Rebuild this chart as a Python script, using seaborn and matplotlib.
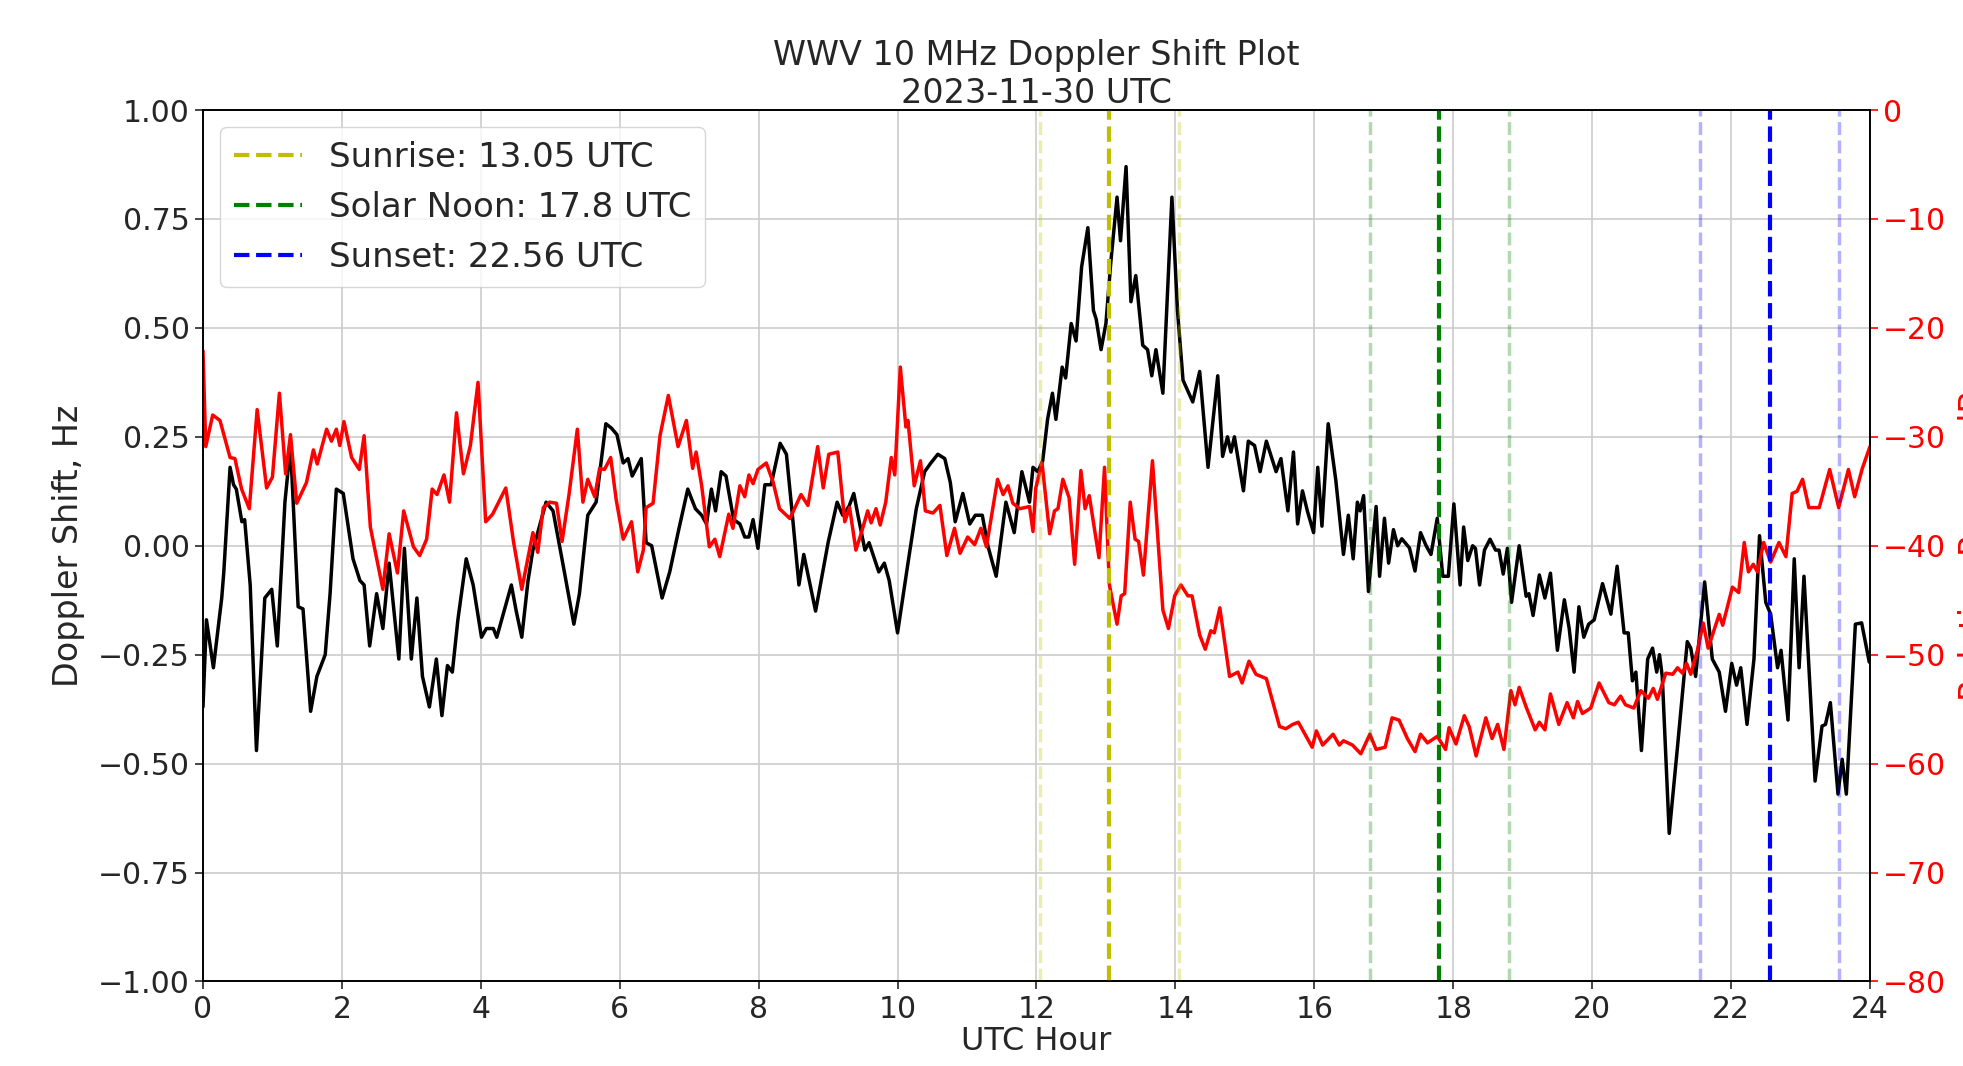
import matplotlib
matplotlib.use("Agg")
import pandas as pd
import matplotlib.pyplot as plt
import seaborn as sns

# Доплеровский сдвиг (Гц) по часам UTC
hours_doppler = [
    0.00, 0.05, 0.15, 0.27, 0.30, 0.39, 0.44, 0.48, 0.56, 0.60, 0.68, 0.77, 0.89, 0.99,
    1.07, 1.18, 1.26, 1.37, 1.44, 1.55, 1.64, 1.76, 1.83, 1.92, 2.02, 2.16, 2.26, 2.32,
    2.40, 2.50, 2.59, 2.68, 2.82, 2.90, 3.00, 3.08, 3.16, 3.26, 3.36, 3.44, 3.52, 3.59,
    3.67, 3.79, 3.89, 4.01, 4.08, 4.18, 4.23, 4.44, 4.51, 4.59, 4.68, 4.75, 4.94, 5.04,
    5.18, 5.34, 5.42, 5.54, 5.66, 5.80, 5.88, 5.96, 6.05, 6.12, 6.18, 6.31, 6.38, 6.46,
    6.61, 6.72, 6.84, 6.98, 7.09, 7.18, 7.25, 7.32, 7.38, 7.46, 7.53, 7.64, 7.73, 7.80,
    7.86, 7.92, 7.99, 8.09, 8.18, 8.31, 8.40, 8.48, 8.58, 8.65, 8.82, 9.00, 9.13, 9.21,
    9.30, 9.37, 9.43, 9.53, 9.59, 9.73, 9.81, 9.88, 10.00, 10.15, 10.27, 10.39, 10.48,
    10.58, 10.68, 10.76, 10.83, 10.94, 11.04, 11.12, 11.22, 11.30, 11.42, 11.56, 11.68,
    11.79, 11.90, 11.95, 12.02, 12.09, 12.16, 12.23, 12.28, 12.37, 12.42, 12.50, 12.57,
    12.65, 12.74, 12.82, 12.86, 12.93, 13.00, 13.07, 13.16, 13.21, 13.29, 13.36, 13.43,
    13.53, 13.60, 13.66, 13.72, 13.82, 13.95, 14.03, 14.11, 14.25, 14.35, 14.47, 14.61,
    14.68, 14.75, 14.80, 14.85, 14.98, 15.05, 15.14, 15.22, 15.31, 15.39, 15.45, 15.52,
    15.62, 15.70, 15.76, 15.83, 15.90, 15.99, 16.05, 16.11, 16.20, 16.31, 16.42, 16.49,
    16.56, 16.62, 16.66, 16.71, 16.78, 16.89, 16.94, 17.01, 17.07, 17.14, 17.20, 17.26,
    17.37, 17.45, 17.53, 17.61, 17.68, 17.77, 17.85, 17.93, 18.01, 18.10, 18.15, 18.21,
    18.28, 18.32, 18.38, 18.45, 18.53, 18.61, 18.66, 18.72, 18.78, 18.84, 18.95, 19.05,
    19.09, 19.15, 19.24, 19.32, 19.40, 19.50, 19.60, 19.67, 19.74, 19.81, 19.88, 19.95,
    20.03, 20.15, 20.27, 20.36, 20.46, 20.52, 20.58, 20.63, 20.71, 20.80, 20.87, 20.93,
    20.97, 21.01, 21.11, 21.23, 21.37, 21.42, 21.49, 21.62, 21.73, 21.83, 21.92, 22.01,
    22.08, 22.14, 22.23, 22.33, 22.41, 22.50, 22.57, 22.67, 22.72, 22.82, 22.91, 22.98,
    23.05, 23.21, 23.31, 23.36, 23.43, 23.54, 23.60, 23.66, 23.79, 23.88, 23.99,
]
doppler_hz = [
    -0.37, -0.17, -0.28, -0.12, -0.06, 0.18, 0.14, 0.13, 0.055, 0.06, -0.09, -0.47, -0.12, -0.10,
    -0.23, 0.10, 0.23, -0.14, -0.145, -0.38, -0.30, -0.25, -0.11, 0.13, 0.12, -0.03, -0.08, -0.09,
    -0.23, -0.11, -0.19, -0.04, -0.26, -0.006, -0.26, -0.12, -0.30, -0.37, -0.26, -0.39, -0.275, -0.29,
    -0.17, -0.03, -0.09, -0.21, -0.19, -0.19, -0.21, -0.09, -0.15, -0.21, -0.08, -0.01, 0.10, 0.08,
    -0.04, -0.18, -0.11, 0.07, 0.10, 0.28, 0.27, 0.255, 0.19, 0.20, 0.16, 0.20, 0.007, 0.0,
    -0.12, -0.06, 0.03, 0.13, 0.085, 0.07, 0.05, 0.13, 0.08, 0.17, 0.16, 0.06, 0.05, 0.02,
    0.02, 0.06, -0.006, 0.14, 0.14, 0.235, 0.21, 0.08, -0.09, -0.02, -0.15, 0.007, 0.10, 0.07,
    0.09, 0.12, 0.07, -0.01, 0.007, -0.06, -0.04, -0.08, -0.20, -0.04, 0.085, 0.17, 0.19,
    0.21, 0.20, 0.145, 0.055, 0.12, 0.05, 0.07, 0.07, 0.0, -0.07, 0.10, 0.03,
    0.17, 0.10, 0.18, 0.17, 0.195, 0.29, 0.35, 0.29, 0.41, 0.385, 0.51, 0.47,
    0.64, 0.73, 0.54, 0.52, 0.45, 0.51, 0.65, 0.80, 0.70, 0.87, 0.56, 0.62,
    0.46, 0.45, 0.39, 0.45, 0.35, 0.80, 0.54, 0.38, 0.33, 0.40, 0.18, 0.39,
    0.205, 0.25, 0.215, 0.25, 0.126, 0.24, 0.23, 0.17, 0.24, 0.20, 0.17, 0.20,
    0.08, 0.215, 0.05, 0.126, 0.08, 0.03, 0.18, 0.045, 0.28, 0.15, -0.02, 0.07,
    -0.03, 0.10, 0.08, 0.115, -0.105, 0.09, -0.07, 0.063, -0.04, 0.037, 0.0, 0.016,
    -0.005, -0.058, 0.03, 0.0, -0.02, 0.063, -0.07, -0.07, 0.096, -0.09, 0.043, -0.034,
    0.0, -0.006, -0.09, -0.01, 0.015, -0.01, -0.01, -0.065, -0.006, -0.13, 0.0, -0.116,
    -0.11, -0.16, -0.067, -0.12, -0.063, -0.24, -0.124, -0.19, -0.29, -0.14, -0.21, -0.18,
    -0.17, -0.087, -0.157, -0.047, -0.20, -0.20, -0.31, -0.29, -0.47, -0.26, -0.235, -0.29,
    -0.25, -0.30, -0.66, -0.46, -0.22, -0.235, -0.30, -0.083, -0.26, -0.29, -0.38, -0.27,
    -0.32, -0.28, -0.41, -0.26, 0.023, -0.13, -0.157, -0.28, -0.24, -0.40, -0.03, -0.28,
    -0.07, -0.54, -0.414, -0.41, -0.36, -0.57, -0.49, -0.57, -0.18, -0.177, -0.267,
]

# Относительная мощность (дБ) по часам UTC
hours_power = [
    0.00, 0.04, 0.14, 0.245, 0.39, 0.46, 0.556, 0.667, 0.78, 0.916, 1.00, 1.10, 1.19, 1.26,
    1.35, 1.49, 1.59, 1.645, 1.78, 1.85, 1.92, 1.97, 2.03, 2.14, 2.25, 2.32, 2.41, 2.59,
    2.68, 2.80, 2.89, 3.03, 3.12, 3.22, 3.30, 3.37, 3.47, 3.55, 3.65, 3.75, 3.85, 3.96,
    4.07, 4.17, 4.36, 4.47, 4.59, 4.75, 4.82, 4.90, 4.99, 5.09, 5.17, 5.27, 5.39, 5.47,
    5.54, 5.64, 5.71, 5.78, 5.87, 5.95, 6.05, 6.17, 6.26, 6.34, 6.38, 6.48, 6.58, 6.70,
    6.84, 6.96, 7.05, 7.10, 7.18, 7.29, 7.37, 7.44, 7.57, 7.63, 7.73, 7.80, 7.86, 7.92,
    7.99, 8.11, 8.21, 8.30, 8.45, 8.61, 8.71, 8.85, 8.93, 9.01, 9.14, 9.24, 9.31, 9.40,
    9.48, 9.57, 9.62, 9.69, 9.75, 9.83, 9.91, 9.96, 10.04, 10.12, 10.15, 10.24, 10.33,
    10.40, 10.51, 10.61, 10.71, 10.82, 10.90, 11.01, 11.11, 11.20, 11.28, 11.44, 11.52,
    11.59, 11.66, 11.76, 11.90, 11.95, 11.99, 12.08, 12.19, 12.26, 12.31, 12.38, 12.47,
    12.55, 12.64, 12.70, 12.76, 12.90, 12.98, 13.05, 13.16, 13.22, 13.27, 13.35, 13.42,
    13.47, 13.54, 13.67, 13.82, 13.90, 13.99, 14.08, 14.18, 14.24, 14.35, 14.43, 14.51,
    14.56, 14.64, 14.78, 14.90, 14.96, 15.06, 15.16, 15.31, 15.50, 15.59, 15.69, 15.77,
    15.97, 16.03, 16.12, 16.27, 16.36, 16.42, 16.55, 16.67, 16.80, 16.89, 17.02, 17.12,
    17.22, 17.34, 17.45, 17.53, 17.63, 17.77, 17.89, 17.94, 18.04, 18.16, 18.23, 18.33,
    18.47, 18.56, 18.64, 18.73, 18.83, 18.89, 18.95, 19.05, 19.18, 19.24, 19.32, 19.40,
    19.52, 19.64, 19.73, 19.79, 19.86, 19.98, 20.10, 20.24, 20.32, 20.41, 20.48, 20.60,
    20.70, 20.81, 20.88, 20.94, 21.06, 21.16, 21.23, 21.30, 21.36, 21.42, 21.52, 21.60,
    21.67, 21.83, 21.88, 22.02, 22.11, 22.19, 22.25, 22.32, 22.38, 22.47, 22.57, 22.69,
    22.79, 22.88, 22.95, 23.03, 23.12, 23.27, 23.42, 23.55, 23.69, 23.78, 23.89, 24.00,
]
power_db = [
    -22.1, -30.9, -28.0, -28.5, -31.9, -32.0, -34.8, -36.6, -27.5, -34.7, -33.7, -26.0, -33.4, -29.8,
    -36.1, -34.2, -31.2, -32.5, -29.3, -30.4, -29.3, -30.8, -28.6, -31.9, -33.0, -29.9, -38.3, -44.0,
    -38.9, -42.5, -36.8, -40.1, -40.9, -39.4, -34.8, -35.3, -33.5, -36.0, -27.8, -33.4, -30.8, -25.0,
    -37.8, -37.1, -34.7, -39.6, -44.0, -38.8, -40.6, -36.5, -36.0, -36.1, -39.6, -35.3, -29.3, -36.0,
    -33.9, -35.5, -32.9, -33.0, -31.9, -35.8, -39.4, -37.8, -42.4, -40.4, -36.5, -36.1, -29.9, -26.2,
    -30.9, -28.5, -32.9, -31.4, -34.5, -40.1, -39.4, -41.0, -37.1, -38.4, -34.5, -35.5, -33.5, -34.3,
    -33.0, -32.4, -34.2, -36.6, -37.5, -35.3, -36.3, -30.9, -34.7, -31.6, -31.4, -37.8, -36.5, -40.4,
    -38.8, -36.8, -37.9, -36.6, -38.1, -36.0, -31.9, -33.5, -23.6, -29.1, -28.5, -34.5, -32.2,
    -36.8, -37.0, -36.3, -40.9, -38.4, -40.7, -39.2, -39.9, -38.4, -40.1, -33.9, -35.3,
    -34.5, -36.1, -36.6, -36.4, -38.7, -34.7, -32.4, -38.9, -36.8, -36.6, -33.9, -35.6,
    -41.7, -33.1, -36.6, -35.4, -41.1, -32.8, -43.6, -47.2, -44.6, -44.4, -36.0, -39.4,
    -39.6, -42.7, -32.2, -45.9, -47.6, -44.6, -43.6, -44.6, -44.6, -48.2, -49.5, -47.8,
    -48.0, -45.7, -52.0, -51.6, -52.6, -50.6, -51.8, -52.2, -56.6, -56.8, -56.4, -56.2,
    -58.5, -57.0, -58.3, -57.3, -58.3, -57.9, -58.3, -59.1, -57.3, -58.7, -58.5, -55.8,
    -56.0, -57.7, -58.9, -57.3, -58.1, -57.5, -58.7, -56.7, -58.2, -55.6, -56.6, -59.3,
    -55.8, -57.7, -56.4, -58.7, -53.3, -54.6, -53.0, -54.8, -56.9, -56.2, -56.9, -53.6,
    -56.4, -54.4, -55.8, -54.3, -55.4, -54.9, -52.6, -54.4, -54.6, -53.8, -54.6, -54.9,
    -53.3, -54.0, -53.1, -54.1, -51.7, -51.8, -51.2, -51.7, -50.8, -51.8, -49.5, -47.1,
    -49.4, -46.3, -47.3, -43.8, -44.3, -39.7, -42.4, -41.7, -42.4, -39.7, -41.5, -39.7,
    -41.0, -35.2, -35.0, -33.9, -36.5, -36.5, -33.0, -36.5, -33.0, -35.5, -32.9, -30.9,
]

sunrise = 13.05
solar_noon = 17.8
sunset = 22.56

sns.set_style("white")
plt.rcParams['font.family'] = ['DejaVu Sans']

fig = plt.figure(figsize=(19.63, 10.66), dpi=100)
ax = fig.add_axes([0.1034, 0.0793, 0.8492, 0.8175])
ax2 = ax.twinx()

doppler_df = pd.DataFrame({'hour': hours_doppler, 'shift': doppler_hz})
power_df = pd.DataFrame({'hour': hours_power, 'power': power_db})

sns.lineplot(data=doppler_df, x='hour', y='shift', color='black', linewidth=2.5, ax=ax)
sns.lineplot(data=power_df, x='hour', y='power', color='red', linewidth=2.5, ax=ax2)

# Восход, солнечный полдень и закат (±1 час бледными линиями)
events = [
    (sunrise, 'y', f'Sunrise: {sunrise} UTC'),
    (solar_noon, 'g', f'Solar Noon: {solar_noon} UTC'),
    (sunset, 'b', f'Sunset: {sunset} UTC'),
]
for t, c, lbl in events:
    ax2.axvline(t, color=c, linestyle='--', linewidth=3, label=lbl)
    ax2.axvline(t - 1, color=c, linestyle='--', linewidth=2.5, alpha=0.3)
    ax2.axvline(t + 1, color=c, linestyle='--', linewidth=2.5, alpha=0.3)

yticks = [-1, -0.75, -0.5, -0.25, 0, 0.25, 0.5, 0.75, 1]
ax.set_xlim(0, 24)
ax.set_ylim(-1, 1)
ax2.set_ylim(-80, 0)
ax.set_xticks(range(0, 25, 2))
ax.set_yticks(yticks)
ax.set_yticklabels([f'{v:.2f}'.replace('-', '\u2212') for v in yticks])
ax2.set_yticks(range(-80, 1, 10))

ax.grid(True, color='#cccccc', linewidth=1.2)
ax.tick_params(axis='both', labelsize=21.5, length=6, width=1.2, left=True, bottom=True)
ax2.tick_params(axis='y', labelsize=21.5, length=6, width=1.2, colors='red', right=True)
for a in (ax, ax2):
    for s in a.spines.values():
        s.set_color('black')
        s.set_linewidth(1.2)

ax.set_xlabel('UTC Hour', fontsize=23, labelpad=2)
ax.set_ylabel('Doppler Shift, Hz', fontsize=24, labelpad=9)
ax2.set_ylabel('Relative Power, dB', fontsize=24, color='red', labelpad=8)
ax.set_title('WWV 10 MHz Doppler Shift Plot\n2023-11-30 UTC', fontsize=24, pad=4)

ax2.legend(loc='upper left', fontsize=24.5)

fig.savefig('out.png', dpi=100)
